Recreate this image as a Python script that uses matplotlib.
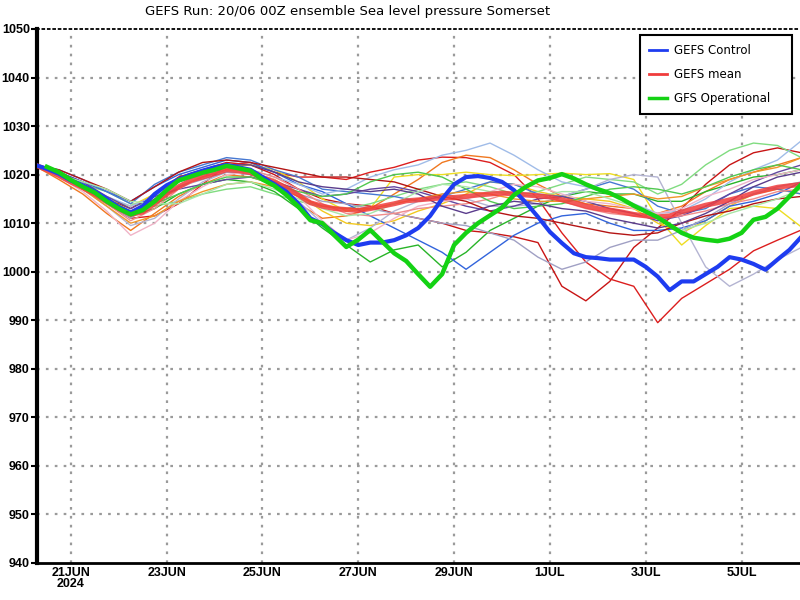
import numpy as np
import matplotlib
matplotlib.use("Agg")
import matplotlib.pyplot as plt
from matplotlib.lines import Line2D

title = "GEFS Run: 20/06 00Z ensemble Sea level pressure Somerset"

# x axis: days since 20 Jun 2024 00Z
tick_days = [1, 3, 5, 7, 9, 11, 13, 15]
tick_labels = ["21JUN\n2024", "23JUN", "25JUN", "27JUN", "29JUN", "1JUL", "3JUL", "5JUL"]
y_ticks = [940, 950, 960, 970, 980, 990, 1000, 1010, 1020, 1030, 1040, 1050]

# 6-hourly from day 0.25
gefs_control = [
    1022.0, 1021.2, 1020.2, 1018.8, 1017.8, 1016.5, 1015.0, 1013.3, 1012.2, 1013.5,
    1016.0, 1017.8, 1019.0, 1020.0, 1020.8, 1021.5, 1022.0, 1021.5, 1021.0, 1019.5,
    1018.0, 1016.5, 1014.0, 1011.0, 1009.8, 1008.0, 1006.5, 1005.5, 1006.0, 1006.0,
    1006.5, 1007.5, 1009.0, 1011.5, 1015.0, 1018.0, 1019.5, 1019.7, 1019.3, 1018.5,
    1016.8, 1014.2, 1011.3, 1008.2, 1005.9, 1003.8, 1003.0, 1002.8, 1002.5, 1002.5,
    1002.5, 1001.0, 999.0, 996.2, 998.0, 998.0, 999.5, 1001.0, 1003.0, 1002.5,
    1001.6, 1000.4, 1002.5, 1004.5, 1007.2,
]
gefs_mean = [
    1022.0, 1021.0, 1019.8, 1018.5, 1017.3, 1016.0, 1014.5, 1013.0, 1011.8, 1012.3,
    1014.0, 1016.0, 1017.5, 1018.8, 1019.5, 1020.2, 1021.0, 1020.8, 1020.4, 1019.4,
    1018.5, 1017.3, 1015.8, 1014.2, 1013.5, 1013.0, 1012.8, 1012.6, 1013.0, 1013.5,
    1014.0, 1014.6, 1014.8, 1015.0, 1015.2, 1015.3, 1015.5, 1015.8, 1016.0, 1016.2,
    1016.0, 1015.8, 1015.6, 1015.4, 1014.8, 1014.2, 1013.5, 1013.0, 1012.7, 1012.3,
    1011.8, 1011.5, 1011.3, 1011.5, 1012.3, 1013.0, 1013.7, 1014.2, 1014.8, 1015.4,
    1016.2, 1016.8, 1017.4, 1017.7, 1018.0,
]
# 6-hourly from day 0.5
gfs_op = [
    1021.6, 1020.5, 1018.9, 1017.5, 1016.3, 1014.5, 1013.0, 1011.8, 1012.7, 1014.5,
    1016.8, 1018.8, 1019.6, 1020.4, 1021.0, 1021.8, 1021.3, 1020.8, 1019.0, 1017.7,
    1015.8, 1013.4, 1010.6, 1010.0, 1007.5, 1005.1, 1006.6, 1008.6, 1006.2, 1003.8,
    1002.2, 999.5, 996.9, 999.5, 1005.5, 1008.0, 1010.0, 1011.6, 1013.2, 1015.8,
    1017.5, 1018.8, 1019.3, 1020.1, 1019.2, 1018.0, 1017.0, 1016.2, 1015.0, 1013.6,
    1012.4, 1011.2, 1009.6, 1008.0, 1007.0, 1006.6, 1006.3, 1006.8, 1008.0, 1010.7,
    1011.3, 1013.0, 1015.5, 1018.0,
]

# ensemble members, 12-hourly from day 0.25
mem01 = [1022, 1020.5, 1018, 1015, 1013, 1016, 1019.5, 1021, 1022.5, 1022, 1020,
         1017, 1015, 1014, 1013.5, 1012, 1011, 1010, 1008.5, 1008, 1007.2, 1006,
         997, 994, 998, 1005, 1009, 1013, 1018, 1022, 1024.5, 1025.5, 1024.5]
mem02 = [1022, 1020, 1017, 1014, 1011, 1011.5, 1014, 1018, 1022, 1022.5, 1020.5,
         1019.5, 1019.5, 1019, 1020.5, 1021.5, 1023, 1023.6, 1023.5, 1022.5, 1020, 1015,
         1008, 1002, 998.5, 997, 989.5, 994.5, 997.5, 1000.5, 1004.3, 1006.5, 1008.6]
mem03 = [1021.8, 1019, 1016, 1012, 1008.5, 1012, 1015.5, 1018, 1020, 1019.5, 1018,
         1014, 1011, 1011.5, 1013, 1016, 1019, 1022.5, 1024, 1023.5, 1021, 1018,
         1015.5, 1014, 1013.5, 1013, 1012, 1013.5, 1016.5, 1019, 1020.5, 1022, 1023.5]
mem04 = [1022, 1020.5, 1018, 1015, 1013.5, 1016, 1019, 1020.5, 1021.5, 1022, 1021,
         1018.5, 1015, 1012.5, 1013, 1019.5, 1020, 1020, 1020.5, 1020, 1019.8, 1020,
         1020.3, 1020, 1020.2, 1019, 1011, 1005.5, 1009.5, 1013, 1013.5, 1013, 1009.2]
mem05 = [1022, 1020, 1017, 1014, 1011.5, 1014, 1017.5, 1019.5, 1021, 1020.5, 1019,
         1016, 1012.5, 1010, 1009.5, 1010.5, 1012.5, 1014, 1016, 1018.5, 1018, 1016.5,
         1015.5, 1015, 1014.5, 1013, 1010, 1008, 1010.5, 1013.5, 1016, 1017, 1016]
mem06 = [1022, 1020.5, 1018, 1016.5, 1014, 1013.5, 1014.5, 1016, 1017, 1017.5, 1016,
         1014.5, 1013.5, 1013, 1014, 1015.5, 1017, 1018, 1018.5, 1017.5, 1016, 1016.5,
         1018, 1019.5, 1019, 1018.5, 1016, 1018, 1022, 1025, 1026.5, 1026, 1023.5]
mem07 = [1022, 1020, 1017.5, 1014.5, 1011.5, 1013, 1016, 1018, 1019, 1018.5, 1016.5,
         1013, 1009, 1005.5, 1002, 1004.5, 1005.5, 1001, 1004, 1008.5, 1011, 1013.5,
         1015.5, 1016.5, 1016, 1016, 1014.5, 1014.5, 1016.5, 1018, 1019.5, 1020, 1021]
mem08 = [1022, 1020.5, 1018.5, 1016.5, 1014.5, 1017.5, 1020, 1021.5, 1023, 1022.5, 1020.5,
         1018, 1016.5, 1014, 1011.5, 1009, 1006.5, 1004, 1000.5, 1004, 1007.5, 1010,
         1011.5, 1012, 1010, 1008.5, 1008.5, 1009, 1010.5, 1013.5, 1014.5, 1016, 1018.5]
mem09 = [1022, 1021, 1019, 1016.5, 1014, 1018, 1020.5, 1022, 1023.5, 1023, 1021,
         1019.5, 1017, 1016.5, 1016, 1015.5, 1014.5, 1015.5, 1017, 1018.5, 1018, 1016,
         1015.5, 1017, 1018.5, 1017, 1013.5, 1012, 1013, 1016, 1017.5, 1017, 1016]
mem10 = [1022, 1020.5, 1018, 1015.5, 1013.5, 1015.5, 1018.5, 1020, 1021.5, 1021, 1019.5,
         1018, 1016, 1017, 1019.5, 1021, 1022, 1024, 1025, 1026.5, 1024, 1021,
         1018.5, 1017.5, 1016, 1014, 1012, 1012.5, 1015, 1018.5, 1021, 1023, 1027]
mem11 = [1022, 1020, 1017, 1013.5, 1009.5, 1011, 1015, 1018.5, 1020.5, 1020.5, 1018.5,
         1014.5, 1010, 1006.5, 1009, 1012.5, 1014.5, 1016, 1015, 1013.5, 1013.5, 1014,
         1015.5, 1017, 1019, 1020, 1019.5, 1010, 1001, 997, 999.5, 1002.5, 1005]
mem12 = [1022, 1020, 1017.5, 1014, 1011, 1014.5, 1017.5, 1019, 1020.5, 1020, 1018.5,
         1016, 1014.5, 1014, 1013, 1012, 1011, 1010, 1009.5, 1008, 1006.5, 1003,
         1000.5, 1002, 1005, 1006.5, 1006.5, 1008.5, 1011, 1014, 1016, 1017.5, 1018.5]
mem13 = [1022, 1020.5, 1018.5, 1015.5, 1013, 1015.5, 1017, 1018, 1019, 1019.5, 1018.5,
         1017, 1015.5, 1016, 1017, 1017.5, 1016.5, 1015, 1013.5, 1012.5, 1013.5, 1015,
         1015.5, 1014.5, 1013, 1012, 1010.5, 1011.5, 1013.5, 1016, 1018.5, 1020.5, 1022]
mem14 = [1022, 1019.5, 1016.5, 1012.5, 1007.5, 1010, 1014.5, 1017.5, 1020, 1020.5, 1019,
         1015.5, 1010.5, 1006.5, 1008, 1011, 1013.5, 1014.5, 1015, 1016.5, 1018, 1017.5,
         1016, 1014.5, 1014, 1013, 1012, 1013, 1015.5, 1017, 1019, 1020, 1021]
mem15 = [1022, 1020, 1017.5, 1014, 1010.5, 1013, 1017, 1019.5, 1021, 1021, 1019.5,
         1017, 1014, 1012, 1011.5, 1012, 1013, 1013.5, 1014, 1015, 1016.5, 1016,
         1014.5, 1013, 1012, 1011.5, 1011, 1011.5, 1012.5, 1014, 1015, 1016.5, 1017]
mem16 = [1022, 1021, 1019, 1017, 1014.5, 1017.5, 1020.5, 1022.5, 1023, 1022.5, 1021.5,
         1020.5, 1019.5, 1019.5, 1019, 1018.5, 1017, 1015.5, 1014.5, 1012.5, 1011.5, 1011,
         1010, 1009, 1008, 1007.5, 1008, 1010, 1011.5, 1012.5, 1014, 1015, 1015.5]
mem17 = [1022, 1020, 1017, 1013.5, 1010, 1011.5, 1014.5, 1016.5, 1018, 1018.5, 1017.5,
         1015.5, 1013.5, 1013, 1013, 1014, 1015, 1016, 1016.5, 1016, 1015, 1014.5,
         1014.5, 1015, 1015.5, 1016, 1015, 1015.5, 1017.5, 1019, 1020.5, 1021.5, 1023.5]
mem18 = [1022, 1020.5, 1018, 1015, 1012.5, 1014, 1016, 1018, 1019.5, 1019.5, 1018,
         1016.5, 1015.5, 1016, 1018.5, 1020, 1020.5, 1019.5, 1017, 1014.5, 1013, 1013.5,
         1014, 1015.5, 1017, 1017.5, 1017, 1016, 1017.5, 1019.5, 1021, 1022, 1021]
mem19 = [1022, 1020.5, 1018, 1015, 1012, 1015, 1018.5, 1020.5, 1022, 1022, 1020.5,
         1018.5, 1017.5, 1017, 1016.5, 1017, 1016, 1013.5, 1012, 1013.5, 1014.5, 1014,
         1013, 1012.5, 1011, 1010, 1009, 1010, 1012, 1014.5, 1017.5, 1019.5, 1020.5]
mem20 = [1022, 1020, 1018.5, 1017, 1014.5, 1014, 1014, 1016, 1018, 1018.5, 1017,
         1015, 1013, 1011.5, 1012, 1014, 1016.5, 1018, 1017.5, 1016.5, 1016, 1015.5,
         1016.5, 1016.5, 1015, 1013.5, 1011, 1008.5, 1010, 1012, 1013.5, 1015, 1017]

members = [mem01, mem02, mem03, mem04, mem05, mem06, mem07, mem08, mem09, mem10,
           mem11, mem12, mem13, mem14, mem15, mem16, mem17, mem18, mem19, mem20]
member_colors = ["#c81414", "#dc1e1e", "#f07820", "#eedd22", "#f2c81e",
                 "#80dc80", "#28b428", "#3264dc", "#4678d2", "#a0bce8",
                 "#b4b4d2", "#a0a0c4", "#6446a0", "#f0b4c8", "#f08c8c",
                 "#b41414", "#f09628", "#50c850", "#5a3c8c", "#a8e6a8"]

fig = plt.figure(figsize=(8, 6), dpi=100)
ax = fig.add_axes([0.046, 0.0617, 0.954, 0.89])

grid_style = dict(color="#9a9a9a", linestyle=(0, (1.2, 2.8)), linewidth=1.6)
for yt in y_ticks[1:-1]:
    ax.axhline(yt, zorder=1, **grid_style)
for xt in tick_days:
    ax.axvline(xt, zorder=1, **grid_style)

for vals, c in zip(members, member_colors):
    days = 0.25 + 0.5 * np.arange(len(vals))
    ax.plot(days, vals, color=c, lw=1.0, zorder=2)

mean_days = 0.25 + 0.25 * np.arange(len(gefs_mean))
ctrl_days = 0.25 + 0.25 * np.arange(len(gefs_control))
op_days = 0.5 + 0.25 * np.arange(len(gfs_op))
ax.plot(mean_days, gefs_mean, color="#f03c3c", lw=3.6, alpha=0.85, zorder=3)
ax.plot(ctrl_days, gefs_control, color="#1e3cf0", lw=3.0, zorder=4)
ax.plot(op_days, gfs_op, color="#14d214", lw=3.2, zorder=5)

ax.set_xlim(0.29, 16.22)
ax.set_ylim(940, 1050)
ax.set_yticks(y_ticks)
ax.set_yticklabels([str(v) for v in y_ticks], fontfamily="Liberation Sans",
                   fontweight="bold", fontsize=9)
ax.set_xticks(tick_days)
ax.set_xticklabels(tick_labels, fontfamily="Liberation Sans", fontweight="bold",
                   fontsize=9, linespacing=0.85)
ax.tick_params(axis="y", direction="out", length=4, width=1.5, pad=1)
ax.tick_params(axis="x", length=0, pad=3)

ax.spines["left"].set_linewidth(3)
ax.spines["bottom"].set_linewidth(2)
ax.spines["top"].set_linestyle((0, (1.0, 2.0)))
ax.spines["top"].set_linewidth(1.3)
ax.spines["right"].set_visible(False)

fig.text(0.434, 0.981, title, ha="center", va="center", fontsize=9.5,
         fontfamily="DejaVu Sans")

handles = [Line2D([], [], color="#1e3cf0", lw=2),
           Line2D([], [], color="#f03c3c", lw=2),
           Line2D([], [], color="#14d214", lw=2.5)]
leg = ax.legend(handles, ["GEFS Control", "GEFS mean", "GFS Operational"],
                loc="upper left", bbox_to_anchor=(0.7903, 0.857, 0.1992, 0.1318),
                mode="expand", borderaxespad=0,
                fancybox=False, framealpha=1, edgecolor="black",
                handlelength=1.5, handletextpad=0.6, labelspacing=0.9,
                borderpad=0.8, prop={"family": "DejaVu Sans", "size": 8.5})
leg.get_frame().set_linewidth(1.5)

fig.savefig("out.png", dpi=100)
